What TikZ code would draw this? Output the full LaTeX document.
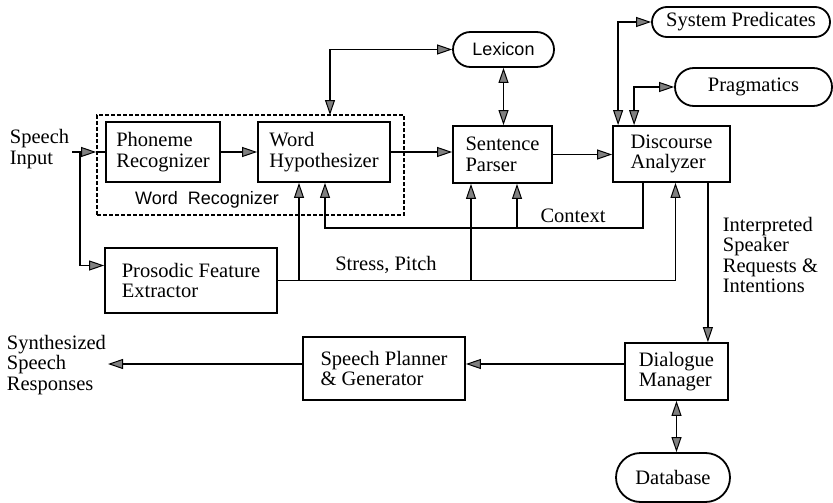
\documentclass[tikz,border=0pt]{standalone}
\usepackage{fontspec}
\setmainfont{Liberation Serif}
\newfontfamily\lexfont{Liberation Sans}
\usetikzlibrary{arrows.meta,shapes.misc}

\tikzset{
  arr/.style={-{Triangle[length=15pt,width=10pt,fill=gray,line width=1pt]}},
  darr/.style={{Triangle[length=15pt,width=10pt,fill=gray,line width=1pt]}-{Triangle[length=15pt,width=10pt,fill=gray,line width=1pt]}},
  sansfont/.style={font=\lexfont\fontsize{18}{20}\selectfont},
}

\begin{document}
\begin{tikzpicture}[x=1pt,y=-1pt,line width=1.8pt,
    font=\fontsize{20.5}{20.5}\selectfont]

  \useasboundingbox (0,0) rectangle (833,503);

  % word recognizer group
  \node[draw,dash pattern=on 4pt off 2pt,minimum width=307pt,minimum height=100pt,inner sep=0pt] (wr) at (250.5,165) {};
  \node[sansfont,inner sep=0pt] (wrl) at (207,200) {Word~ Recognizer};

  \begin{scope}[every node/.style={draw,rectangle,align=left,inner sep=0pt}]
    \node[minimum width=114pt,minimum height=60pt] (phon) at (163,152) {Phoneme\\Recognizer};
    \node[minimum width=132pt,minimum height=60pt] (word) at (324,152) {Word\\Hypothesizer};
    \node[minimum width=99pt,minimum height=57pt]  (sent) at (502.5,154.5) {Sentence\\Parser};
    \node[minimum width=117pt,minimum height=56pt] (disc) at (671.5,154) {Discourse\\Analyzer};
    \node[minimum width=172pt,minimum height=65pt] (pros) at (191,280.5) {Prosodic Feature\\Extractor};
    \node[minimum width=103pt,minimum height=57pt] (dial) at (676.5,371.5) {Dialogue\\Manager};
    \node[minimum width=162pt,minimum height=63pt] (plan) at (384,368.5) {Speech Planner\\\& Generator};
  \end{scope}

  \begin{scope}[every node/.style={draw,rounded rectangle,inner sep=0pt}]
    \node[sansfont,minimum width=101pt,minimum height=35pt] (lex) at (503.5,49.5) {Lexicon};
    \node[minimum width=178pt,minimum height=30pt] (sys)  at (741,22) {System Predicates};
    \node[minimum width=157pt,minimum height=38pt] (prag) at (753.5,87) {Pragmatics};
    \node[minimum width=114pt,minimum height=49pt] (db)   at (673,477.5) {Database};
  \end{scope}

  \begin{scope}[every node/.style={align=left,inner sep=0pt}]
    \node[anchor=west] (sin) at (9,149) {Speech\\Input};
    \node[anchor=west] (sout) at (6,365) {Synthesized\\Speech\\Responses};
    \node[anchor=west] (isr) at (722,255) {Interpreted\\Speaker\\Requests \&\\Intentions};
    \node (ctxl) at (573,216) {Context};
    \node (spl)  at (386,265) {Stress, Pitch};
  \end{scope}

  % bend points
  \coordinate (in) at (72,152);
  \coordinate (br) at (80,152);
  \coordinate (so) at (108,364);
  \coordinate (wl) at (330,115);
  \coordinate (ds) at ([xshift=6pt]disc.north west);
  \coordinate (dp) at ([xshift=22pt]disc.north west);
  \coordinate (dd) at ([xshift=-23pt]disc.south east);
  \coordinate (sp) at ([xshift=4pt]disc.south);
  \coordinate (s1) at (299,280.5);
  \coordinate (s2) at (471,280.5);
  \coordinate (c1) at (643,228);
  \coordinate (c2) at (517,228);
  \coordinate (c3) at (325,228);

  % speech input
  \draw[arr] (in) -- (in -| wr.west);
  \draw (in -| wr.west) -- (phon.west);
  \draw[arr] (br) |- ([yshift=15pt]pros.west);

  % main chain
  \draw[arr] (phon) -- (word);
  \draw[arr] (word.east) -- (word.east -| sent.west);
  \draw[arr] (sent.east) -- (sent.east -| disc.west);
  \draw[darr] (wl) |- (lex.west);
  \draw[darr] (lex.south) -- (lex.south |- sent.north);
  \draw[darr] (ds) |- (sys.west);
  \draw[darr] (dp) |- (prag.west);

  % context
  \draw[arr] (c1 |- disc.south) -- (c1) -- (c3) -- (c3 |- word.south);
  \draw[arr] (c2) -- (c2 |- sent.south);

  % stress, pitch
  \draw[arr] (pros.east) -| (sp);
  \draw[arr] (s1) -- (s1 |- word.south);
  \draw[arr] (s2) -- (s2 |- sent.south);

  % output side
  \draw[arr] (dd) -- (dd |- dial.north);
  \draw[arr] (dial.west |- so) -- (plan.east |- so);
  \draw[arr] (plan.west |- so) -- (so);
  \draw[darr] (dial.south) -- (dial.south |- db.north);

\end{tikzpicture}
\end{document}
